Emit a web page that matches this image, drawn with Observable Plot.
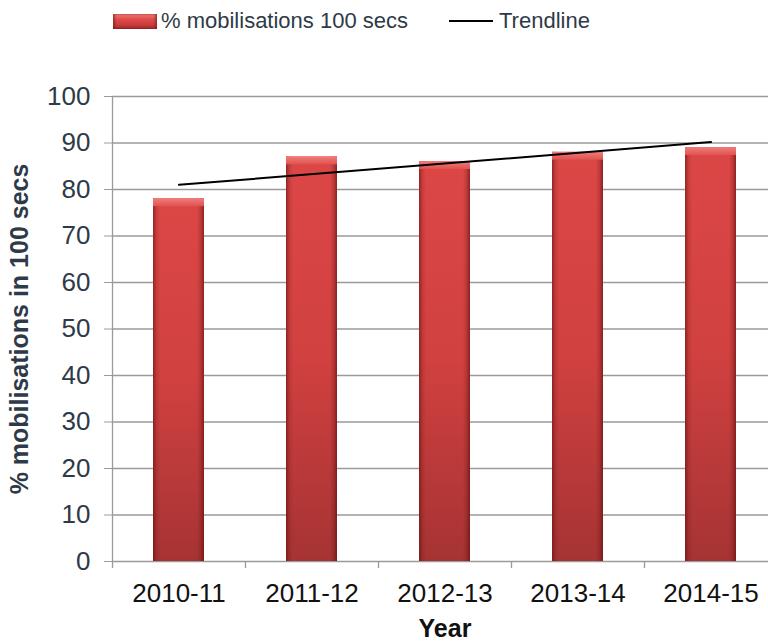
<!DOCTYPE html>
<html><head><meta charset="utf-8">
<script src="https://cdn.jsdelivr.net/npm/d3@7"></script>
<script src="https://cdn.jsdelivr.net/npm/@observablehq/plot@0.6"></script>
<style>
body{margin:0;background:#fff;font-family:"Liberation Sans",Arial,sans-serif;overflow:hidden;width:768px;height:643px}
#legend{position:relative;height:44px;width:768px}
#legend .sw{position:absolute;top:14px;left:113px;width:44px;height:15px;
  background:linear-gradient(to bottom,#ef7a78 0%,#df4c4a 35%,#c63a3a 75%,#9c2a2a 100%);
  box-shadow:inset 2px 0 2px rgba(110,20,20,.5), inset -2px 0 2px rgba(110,20,20,.5)}
#legend .ln{position:absolute;top:20px;left:449px;width:44px;height:2px;background:#000}
#legend .t{position:absolute;top:8px;font-size:22px;color:#2e3a47;white-space:nowrap}
svg [aria-label="y-axis label"], svg [aria-label="x-axis label"]{font-weight:bold;font-size:25px}
</style>
</head><body>
<div id="legend">
  <div class="sw"></div><div class="t" style="left:161px">% mobilisations 100 secs</div>
  <div class="ln"></div><div class="t" style="left:499px">Trendline</div>
</div>
<div id="chart"></div>
<script>
const years = ["2010-11", "2011-12", "2012-13", "2013-14", "2014-15"];
const mobilisationPct = [78, 87, 86, 88, 89];
const trendYears = ["2010-11", "2014-15"];
const trendValues = [81.0, 90.2];
const yTicks = [0, 10, 20, 30, 40, 50, 60, 70, 80, 90, 100];

const bars = years.map((year, i) => ({year, value: mobilisationPct[i]}));
const trend = trendYears.map((year, i) => ({year, value: trendValues[i]}));

const barInset = {insetLeft: 41, insetRight: 41};
const halfBand = -66.5;

const plot = Plot.plot({
  width: 768, height: 599,
  marginTop: 52, marginBottom: 82, marginLeft: 112, marginRight: -9,
  style: {fontFamily: '"Liberation Sans", Arial, sans-serif', fontSize: "25px", background: "white"},
  x: {domain: years, padding: 0},
  y: {domain: [0, 100]},
  marks: [
    Plot.gridY(yTicks, {stroke: "#9a9a9a", strokeOpacity: 1, strokeWidth: 1.3}),
    Plot.ruleX([years[0]], {dx: halfBand, stroke: "#9a9a9a", strokeWidth: 1.3}),
    Plot.axisY(yTicks, {tickSize: 8, tickPadding: 14, stroke: "#9a9a9a", fill: "#2e3a47", fontSize: 26,
      label: "% mobilisations in 100 secs", labelAnchor: "center", labelOffset: 102, labelArrow: "none"}),
    Plot.axisX({tickSize: 7, stroke: "#9a9a9a", strokeWidth: 1.3, dx: halfBand, tickFormat: () => "", label: null}),
    Plot.axisX({tickSize: 0, tickPadding: 22, fill: "#111", fontSize: 26,
      label: "Year", labelAnchor: "center", labelOffset: 75, labelArrow: "none"}),
    Plot.barY(bars, {x: "year", y: "value", fill: "url(#barBody)", ...barInset}),
    Plot.barY(bars, {x: "year", y: "value", fill: "url(#barEdge)", ...barInset}),
    Plot.barY(bars, {x: "year", y1: d => d.value - 1.7, y2: "value", fill: "url(#barTop)", ...barInset}),
    Plot.line(trend, {x: "year", y: "value", stroke: "#000", strokeWidth: 2})
  ]
});

const svg = d3.select(plot);
const defs = svg.insert("defs", ":first-child");
function grad(id, x2, y2, stops) {
  const g = defs.append("linearGradient").attr("id", id)
    .attr("x1", 0).attr("y1", 0).attr("x2", x2).attr("y2", y2);
  stops.forEach(([o, c, op]) => g.append("stop").attr("offset", o).attr("stop-color", c).attr("stop-opacity", op));
}
grad("barBody", 0, 1, [[0, "#dc4746", 1], [0.5, "#d04140", 1], [1, "#a63333", 1]]);
grad("barEdge", 1, 0, [[0, "#5a0a0a", 0.55], [0.07, "#5a0a0a", 0.15], [0.14, "#5a0a0a", 0],
  [0.86, "#5a0a0a", 0], [0.93, "#5a0a0a", 0.2], [1, "#5a0a0a", 0.6]]);
grad("barTop", 0, 1, [[0, "#f07c7a", 1], [1, "#e0524f", 1]]);

document.getElementById("chart").appendChild(plot);
</script>
</body></html>
